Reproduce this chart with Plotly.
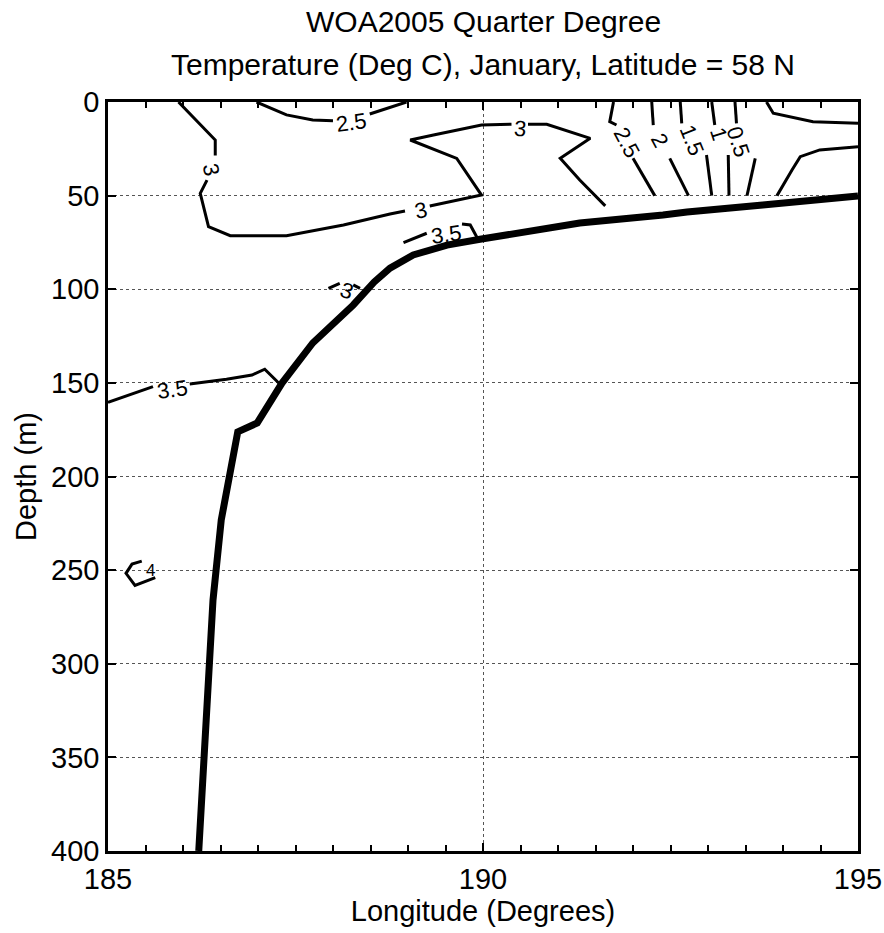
import plotly.graph_objects as go

# ---------------- data (longitude in degrees E, depth in m) ----------------
# None marks a break in a contour line where its label sits
# sea floor (bathymetry) line
bottom_lon = [195.0, 193.96, 193.73, 192.72, 192.40, 191.29, 190.49, 189.96, 189.52, 189.07,
              188.76, 188.55, 188.27, 187.96, 187.73, 187.32, 186.99, 186.73, 186.60, 186.51,
              186.40, 186.32, 186.25, 186.21]
bottom_depth = [50.2, 53.4, 55.0, 58.7, 60.3, 64.6, 69.3, 73.3, 76.4, 81.7,
                88.7, 96.1, 108.4, 120.2, 128.7, 150.1, 171.4, 176.2, 201.9, 223.2,
                266.0, 319.4, 372.8, 400.0]

# 3.0 C isotherm (main)
c30_lon = [185.94, 186.43, 186.43, None, 186.32, 186.23, 186.34, 186.63, 187.38, 188.14,
           188.76, 188.96, None, 189.29, 189.98, 189.65, 189.03, 189.34, 189.98, 190.38,
           None, 190.60, 190.85, 191.43, 191.03, 191.29, 191.63]
c30_depth = [0.0, 20.3, 28.6, None, 41.7, 48.8, 66.6, 71.4, 71.4, 65.7,
             59.8, 58.2, None, 55.5, 49.7, 30.1, 20.3, 17.6, 12.3, 11.9,
             None, 11.9, 11.9, 19.4, 30.1, 41.7, 55.5]
# 3.0 C isotherm (small piece near 100 m)
c30b_lon = [187.94, 188.09, None, 188.27, 188.36]
c30b_depth = [99.5, 96.8, None, 97.7, 99.5]
# 2.5 C isotherm (surface, west)
c25a_lon = [186.98, 187.38, 187.73, 188.00, None, 188.49, 188.98]
c25a_depth = [0.0, 6.9, 9.6, 10.0, None, 6.4, 0.0]
# 2.5 C isotherm (east)
c25b_lon = [191.74, 191.69, 191.78, None, 192.00, 192.29]
c25b_depth = [0.0, 10.5, 12.3, None, 30.1, 50.0]
# 2.0 C
c20_lon = [192.25, 192.27, None, 192.49, 192.74]
c20_depth = [0.0, 12.3, None, 30.1, 50.0]
# 1.5 C
c15_lon = [192.63, 192.65, None, 192.98, 193.05]
c15_depth = [0.0, 11.4, None, 28.3, 50.0]
# 1.0 C
c10_lon = [193.05, 193.09, None, 193.27, 193.28]
c10_depth = [0.0, 12.3, None, 28.3, 50.0]
# 0.5 C
c05_lon = [193.36, 193.38, None, 193.63, 193.52]
c05_depth = [0.0, 11.4, None, 30.1, 50.0]
# unlabelled isotherms at the east edge
c00a_lon = [193.78, 193.87, 194.40, 195.0]
c00a_depth = [0.0, 6.0, 10.5, 11.4]
c00b_lon = [195.0, 194.49, 194.23, 194.12, 193.92]
c00b_depth = [23.9, 25.6, 29.2, 36.3, 50.0]
# 3.5 C isotherm (upper, near shelf break)
c35a_lon = [188.94, 189.25, None, 189.72, 189.83, 189.89, 189.92]
c35a_depth = [75.1, 70.1, None, 65.2, 65.7, 70.1, 72.3]
# 3.5 C isotherm (lower, west)
c35b_lon = [185.0, 185.60, None, 186.09, 186.58, 186.92, 187.09, 187.29]
c35b_depth = [160.4, 152.0, None, 150.6, 148.1, 145.8, 142.7, 150.6]
# 4.0 C small closed contour
c40_lon = [185.45, 185.32, 185.24, 185.36, 185.63]
c40_depth = [245.2, 246.8, 251.7, 258.2, 254.0]

# contour labels: text, lon, depth, angle
label_text = ["2.5", "3", "3", "3", "3.5", "3", "3.5", "4", "2.5", "2", "1.5", "1", "0.5"]
label_lon = [188.25, 186.38, 189.17, 190.49, 189.51, 188.18, 185.86, 185.57, 191.92, 192.36, 192.79, 193.15, 193.41]
label_depth = [11.2, 35.8, 58.2, 14.4, 70.8, 100.4, 153.3, 250.0, 21.4, 20.3, 20.3, 17.1, 21.4]
label_angle = [-8, 78, -12, 5, -8, 20, -8, 0, 62, 62, 68, 72, 72]
label_size = [22, 22, 22, 22, 22, 22, 22, 17, 22, 22, 22, 22, 22]

x_tickvals = [185, 190, 195]
y_tickvals = [0, 50, 100, 150, 200, 250, 300, 350, 400]

# ---------------- figure ----------------
FONT = "Liberation Sans, Arial, Helvetica, sans-serif"
fig = go.Figure()

contours = [
    (c30_lon, c30_depth), (c30b_lon, c30b_depth), (c25a_lon, c25a_depth),
    (c25b_lon, c25b_depth), (c20_lon, c20_depth), (c15_lon, c15_depth),
    (c10_lon, c10_depth), (c05_lon, c05_depth), (c00a_lon, c00a_depth),
    (c00b_lon, c00b_depth), (c35a_lon, c35a_depth), (c35b_lon, c35b_depth),
    (c40_lon, c40_depth),
]
for lon, dep in contours:
    fig.add_trace(go.Scatter(x=lon, y=dep, mode="lines", connectgaps=False,
                             line=dict(color="black", width=3),
                             showlegend=False, hoverinfo="skip"))

fig.add_trace(go.Scatter(x=bottom_lon, y=bottom_depth, mode="lines",
                         line=dict(color="black", width=7),
                         showlegend=False, hoverinfo="skip"))

for t, lo, de, an, sz in zip(label_text, label_lon, label_depth, label_angle, label_size):
    fig.add_annotation(x=lo, y=de, xref="x", yref="y", text=t, showarrow=False,
                       textangle=an,
                       font=dict(family=FONT, size=sz, color="black"))

# two-line title
fig.add_annotation(xref="paper", yref="paper", x=0.5, y=1.108, text="WOA2005 Quarter Degree",
                   showarrow=False, yanchor="middle",
                   font=dict(family=FONT, size=30, color="black"))
fig.add_annotation(xref="paper", yref="paper", x=0.5, y=1.050,
                   text="Temperature (Deg C), January, Latitude = 58 N",
                   showarrow=False, yanchor="middle",
                   font=dict(family=FONT, size=30, color="black"))

fig.update_layout(
    width=884, height=933,
    margin=dict(l=108, r=26, t=102, b=82, autoexpand=False),
    paper_bgcolor="white", plot_bgcolor="white",
    font=dict(family=FONT, size=29, color="black"),
    showlegend=False,
)
fig.update_xaxes(
    range=[185, 195], tickvals=x_tickvals, ticktext=[str(v) for v in x_tickvals],
    ticks="inside", ticklen=8, tickwidth=2, tickcolor="black",
    showline=True, linecolor="black", linewidth=2.5, mirror="allticks",
    showgrid=True, gridcolor="#555", griddash="dot", gridwidth=1,
    zeroline=False, automargin=False,
    minor=dict(dtick=0.5, ticks="inside", ticklen=6, tickwidth=1.5, tickcolor="black", showgrid=False),
    tickfont=dict(size=29),
    title=dict(text="Longitude (Degrees)", font=dict(size=29), standoff=8),
)
fig.update_yaxes(
    range=[400, 0], tickvals=y_tickvals, ticktext=[str(v) for v in y_tickvals],
    ticks="inside", ticklen=8, tickwidth=2, tickcolor="black",
    showline=True, linecolor="black", linewidth=2.5, mirror="allticks",
    showgrid=True, gridcolor="#555", griddash="dot", gridwidth=1,
    zeroline=False, automargin=False,
    tickfont=dict(size=29),
    title=dict(text="Depth (m)", font=dict(size=29), standoff=6),
)

fig.write_html("out.html")
